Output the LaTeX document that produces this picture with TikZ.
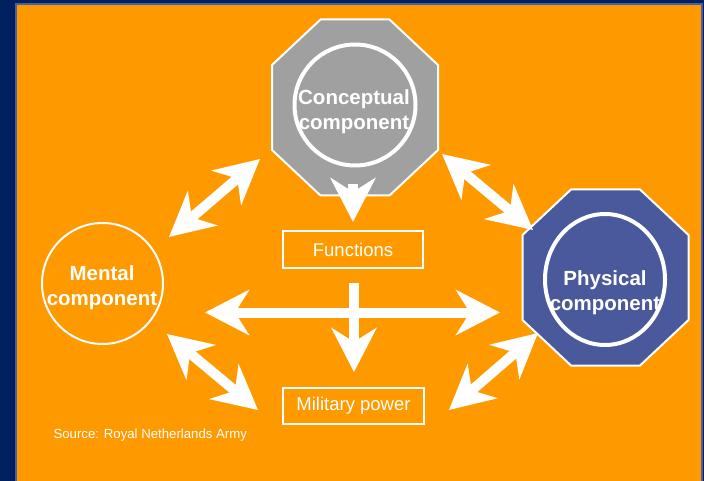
\documentclass[tikz,border=0pt]{standalone}
\usepackage{fontspec}
\setmainfont{Liberation Sans}
\usetikzlibrary{arrows.meta,shapes.geometric}

\definecolor{navy}{RGB}{0,32,96}
\definecolor{rim}{RGB}{76,94,160}
\definecolor{panel}{RGB}{255,153,0}
\definecolor{steel}{RGB}{74,88,156}
\definecolor{stone}{RGB}{160,160,160}

\begin{document}
\begin{tikzpicture}[x=1pt,y=-1pt,
    comp/.style={text=white,align=center,font=\bfseries\fontsize{20.5}{25.5}\selectfont},
    framebox/.style={draw=white,line width=2pt,text=white,minimum width=140pt,minimum height=37pt,font=\fontsize{18.5}{22}\selectfont},
    oneway/.style={white,line width=10pt,-{Stealth[length=44pt,width=45pt,inset=14pt]}},
    twoway/.style={white,line width=10pt,{Stealth[length=44pt,width=45pt,inset=14pt]}-{Stealth[length=44pt,width=45pt,inset=14pt]}}]
    \useasboundingbox (0,0) rectangle (704,481);
    % background and panel
    \fill[navy] (0,0) rectangle (704,481);
    \filldraw[fill=panel,draw=rim,line width=2pt] (16,4.5) rectangle (702,490);

    % octagons
    \filldraw[fill=stone,draw=white,line width=2pt] (320.5,19.5) -- (389.5,19.5) -- (438,65) -- (438,150)
        -- (389.5,195.5) -- (320.5,195.5) -- (272,150) -- (272,65) -- cycle;
    \filldraw[fill=steel,draw=white,line width=2pt] (571,189.5) -- (640,189.5) -- (688.5,235) -- (688.5,320)
        -- (640,365.5) -- (571,365.5) -- (522.5,320) -- (522.5,235) -- cycle;

    % the three components
    \node[circle,draw=white,line width=4pt,minimum size=121pt,inner sep=0pt] (concept) at (355,105) {};
    \node[ellipse,draw=white,line width=4pt,minimum width=120pt,minimum height=131pt,inner sep=0pt] (physical) at (605,279.5) {};
    \node[circle,draw=white,line width=2pt,minimum size=121pt,inner sep=0pt] (mental) at (102.5,283.5) {};
    \node[comp] (conceptlbl) at (354,111.5) {Conceptual\\component};
    \node[comp] (physicallbl) at (605,292.5) {Physical\\component};
    \node[comp] (mentallbl) at (102,287.5) {Mental\\component};

    \node[framebox] (functions) at (353,249.5) {Functions};
    \node[framebox,minimum width=141pt,minimum height=36pt] (power) at (353.5,406) {Military power};

    \node[anchor=west,text=white,font=\fontsize{13.2}{15}\selectfont] (source) at (50,435) {Source: Royal Netherlands Army};

    % arrow ends
    \coordinate (cf-a) at (353,184);
    \coordinate (cf-b) at (353,222);
    \coordinate (fp-a) at (354,283);
    \coordinate (fp-b) at (354,372);
    \coordinate (mp-a) at (205,312.5);
    \coordinate (mp-b) at (500,312.5);
    \coordinate (mc-a) at (169,237);
    \coordinate (mc-b) at (260,159);
    \coordinate (mm-a) at (167,334);
    \coordinate (mm-b) at (258,410);
    \coordinate (cp-a) at (442,154);
    \coordinate (cp-b) at (533,230);
    \coordinate (pm-a) at (538,333);
    \coordinate (pm-b) at (449,410);

    \draw[oneway] (cf-a) -- (cf-b);
    \draw[oneway] (fp-a) -- (fp-b);
    \draw[twoway] (mp-a) -- (mp-b);
    \draw[twoway] (mc-a) -- (mc-b);
    \draw[twoway] (mm-a) -- (mm-b);
    \draw[twoway] (cp-a) -- (cp-b);
    \draw[twoway] (pm-a) -- (pm-b);
\end{tikzpicture}
\end{document}
